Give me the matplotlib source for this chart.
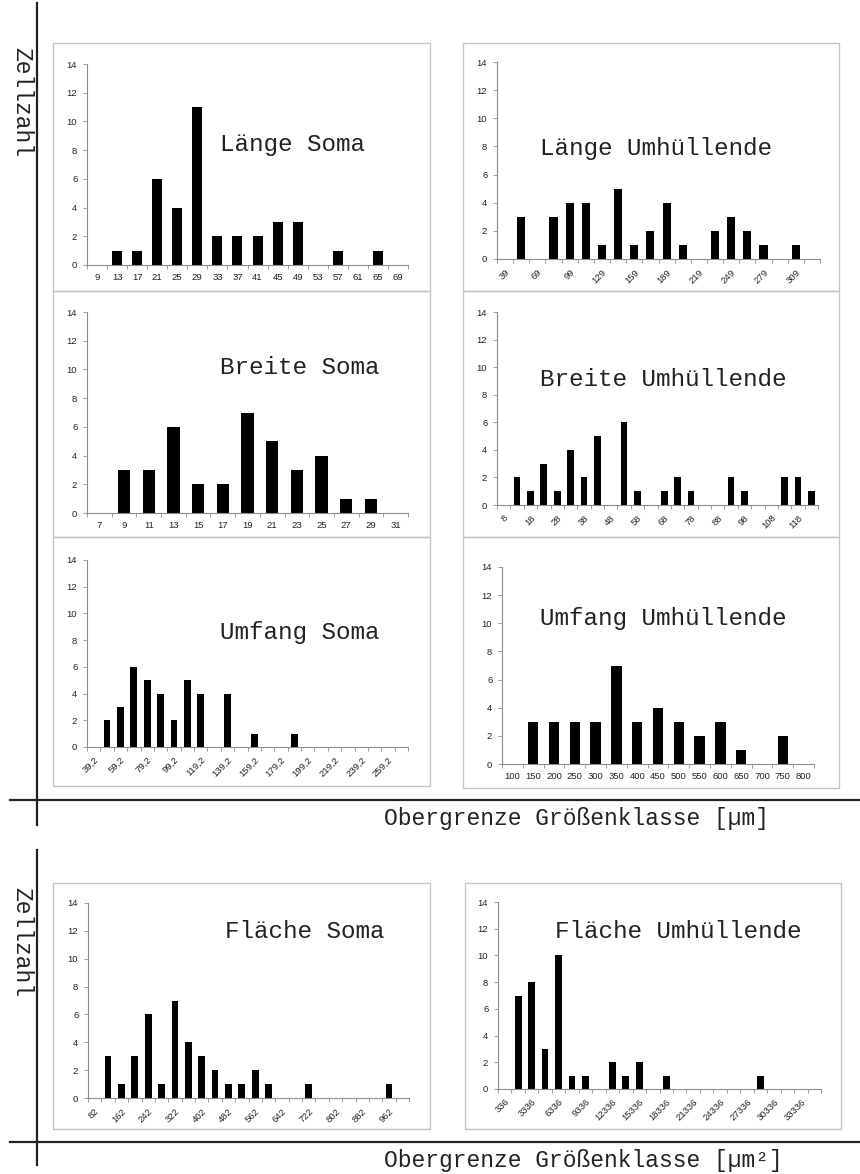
import matplotlib
matplotlib.use("Agg")
import matplotlib.pyplot as plt
from matplotlib.lines import Line2D
from matplotlib.patches import Rectangle

W, H = 860, 1174

# ---------------- data ----------------
laenge_soma_cats = ["9", "13", "17", "21", "25", "29", "33", "37", "41", "45", "49", "53", "57", "61", "65", "69"]
laenge_soma_vals = [0, 1, 1, 6, 4, 11, 2, 2, 2, 3, 3, 0, 1, 0, 1, 0]

laenge_umh_cats = ["39", "54", "69", "84", "99", "114", "129", "144", "159", "174", "189", "204",
                   "219", "234", "249", "264", "279", "294", "309", "324"]
laenge_umh_vals = [0, 3, 0, 3, 4, 4, 1, 5, 1, 2, 4, 1, 0, 2, 3, 2, 1, 0, 1, 0]

breite_soma_cats = ["7", "9", "11", "13", "15", "17", "19", "21", "23", "25", "27", "29", "31"]
breite_soma_vals = [0, 3, 3, 6, 2, 2, 7, 5, 3, 4, 1, 1, 0]

breite_umh_cats = ["8", "13", "18", "23", "28", "33", "38", "43", "48", "53", "58", "63",
                   "68", "73", "78", "83", "88", "93", "98", "103", "108", "113", "118", "123"]
breite_umh_vals = [0, 2, 1, 3, 1, 4, 2, 5, 0, 6, 1, 0, 1, 2, 1, 0, 0, 2, 1, 0, 0, 2, 2, 1]

umfang_soma_cats = ["39,2", "49,2", "59,2", "69,2", "79,2", "89,2", "99,2", "109,2", "119,2", "129,2",
                    "139,2", "149,2", "159,2", "169,2", "179,2", "189,2", "199,2", "209,2", "219,2",
                    "229,2", "239,2", "249,2", "259,2", "269,2"]
umfang_soma_vals = [0, 2, 3, 6, 5, 4, 2, 5, 4, 0, 4, 0, 1, 0, 0, 1, 0, 0, 0, 0, 0, 0, 0, 0]

umfang_umh_cats = ["100", "150", "200", "250", "300", "350", "400", "450", "500", "550", "600",
                   "650", "700", "750", "800"]
umfang_umh_vals = [0, 3, 3, 3, 3, 7, 3, 4, 3, 2, 3, 1, 0, 2, 0]

flaeche_soma_cats = ["82", "122", "162", "202", "242", "282", "322", "362", "402", "442", "482", "522",
                     "562", "602", "642", "682", "722", "762", "802", "842", "882", "922", "962", "1002"]
flaeche_soma_vals = [0, 3, 1, 3, 6, 1, 7, 4, 3, 2, 1, 1, 2, 1, 0, 0, 1, 0, 0, 0, 0, 0, 1, 0]

flaeche_umh_cats = ["336", "1836", "3336", "4836", "6336", "7836", "9336", "10836", "12336", "13836",
                    "15336", "16836", "18336", "19836", "21336", "22836", "24336", "25836", "27336",
                    "28836", "30336", "31836", "33336", "34836"]
flaeche_umh_vals = [0, 7, 8, 3, 10, 1, 1, 0, 2, 1, 2, 0, 1, 0, 0, 0, 0, 0, 0, 1, 0, 0, 0, 0]

y_ticks = [0, 2, 4, 6, 8, 10, 12, 14]

titles = ["Länge Soma", "Länge Umhüllende", "Breite Soma", "Breite Umhüllende",
          "Umfang Soma", "Umfang Umhüllende", "Fläche Soma", "Fläche Umhüllende"]
xlabel_um = "Obergrenze Größenklasse [µm]"
xlabel_um2 = "Obergrenze Größenklasse [µm²]"
ylabel = "Zellzahl"

# ---------------- layout (pixels) ----------------
panels = [
    # cats, vals, axes box (x0, y0, x1, y1), frame box, rotated, step, title pos (x_left, y_center)
    (laenge_soma_cats, laenge_soma_vals, (87, 64, 408, 265), (53, 43, 430, 291), False, 1, (220, 144)),
    (laenge_umh_cats, laenge_umh_vals, (497, 62, 820, 259), (463, 43, 839, 291), True, 2, (540, 148)),
    (breite_soma_cats, breite_soma_vals, (87, 312, 408, 513), (53, 291, 430, 537), False, 1, (220, 367)),
    (breite_umh_cats, breite_umh_vals, (497, 312, 818, 505), (463, 291, 839, 537), True, 2, (540, 379)),
    (umfang_soma_cats, umfang_soma_vals, (87, 560, 408, 747), (53, 537, 430, 786), True, 2, (220, 632)),
    (umfang_umh_cats, umfang_umh_vals, (502, 567, 814, 764), (463, 537, 839, 788), False, 1, (540, 618)),
    (flaeche_soma_cats, flaeche_soma_vals, (88, 903, 409, 1098), (53, 883, 430, 1129), True, 2, (225, 932)),
    (flaeche_umh_cats, flaeche_umh_vals, (498, 902, 821, 1089), (465, 883, 841, 1129), True, 2, (555, 932)),
]

fig = plt.figure(figsize=(W / 100, H / 100), dpi=100)
fig.patch.set_facecolor("white")

def fx(x):
    return x / W

def fy(y):
    return 1 - y / H

mono = "Liberation Mono"
sans = "Liberation Sans"
axis_col = "#8c8c8c"
tick_fs = 6.8

for i, (cats, vals, ab, fb, rot, step, tpos) in enumerate(panels):
    # light grey frame
    fig.add_artist(Rectangle((fx(fb[0]), fy(fb[3])), fx(fb[2]) - fx(fb[0]), fy(fb[1]) - fy(fb[3]),
                             transform=fig.transFigure, fill=False, edgecolor="#c4c4c4", linewidth=1.0))
    ax = fig.add_axes([fx(ab[0]), fy(ab[3]), fx(ab[2]) - fx(ab[0]), fy(ab[1]) - fy(ab[3])])
    n = len(cats)
    xs = list(range(n))
    ax.bar(xs, vals, width=0.5, color="black", edgecolor="none", linewidth=0)
    ax.set_xlim(-0.5, n - 0.5)
    ax.set_ylim(0, 14)
    ax.set_yticks(y_ticks)
    ax.set_yticklabels([str(v) for v in y_ticks], fontsize=tick_fs, family=sans, color="#222222")
    for s in ["top", "right"]:
        ax.spines[s].set_visible(False)
    for s in ["left", "bottom"]:
        ax.spines[s].set_color(axis_col)
        ax.spines[s].set_linewidth(0.8)
    ax.tick_params(axis="y", length=3, width=0.6, color=axis_col, pad=4)
    # category labels at centres, tick marks at category boundaries
    lab_pos = xs[::step]
    ax.set_xticks(lab_pos)
    if rot:
        ax.set_xticklabels(cats[::step], fontsize=tick_fs, family=sans, color="#222222",
                           rotation=45, ha="right", va="top", rotation_mode="anchor")
        ax.tick_params(axis="x", which="major", length=0, pad=6)
    else:
        ax.set_xticklabels(cats[::step], fontsize=tick_fs, family=sans, color="#222222")
        ax.tick_params(axis="x", which="major", length=0, pad=6)
    ax.set_xticks([k - 0.5 for k in range(n + 1)], minor=True)
    ax.tick_params(axis="x", which="minor", length=3, width=0.6, color=axis_col)
    ax.patch.set_alpha(0)
    # panel title
    fig.text(fx(tpos[0]), fy(tpos[1]), titles[i], family=mono, fontsize=17.5,
             ha="left", va="center", color="#222222")

# separator lines
line_kw = dict(transform=fig.transFigure, color="#222222", linewidth=1.6)
fig.add_artist(Line2D([fx(37), fx(37)], [fy(3), fy(825)], **line_kw))
fig.add_artist(Line2D([fx(10), fx(860)], [fy(800), fy(800)], **line_kw))
fig.add_artist(Line2D([fx(37), fx(37)], [fy(850), fy(1165)], **line_kw))
fig.add_artist(Line2D([fx(10), fx(860)], [fy(1142), fy(1142)], **line_kw))

# axis texts
fig.text(fx(384), fy(818), xlabel_um, family=mono, fontsize=16.5, ha="left", va="center", color="#222222")
fig.text(fx(384), fy(1160), xlabel_um2, family=mono, fontsize=16.5, ha="left", va="center", color="#222222")
fig.text(fx(22), fy(102), ylabel, family=mono, fontsize=16.5, rotation=270, ha="center", va="center", color="#222222")
fig.text(fx(22), fy(942), ylabel, family=mono, fontsize=16.5, rotation=270, ha="center", va="center", color="#222222")

fig.savefig("out.png", dpi=100, facecolor="white")
